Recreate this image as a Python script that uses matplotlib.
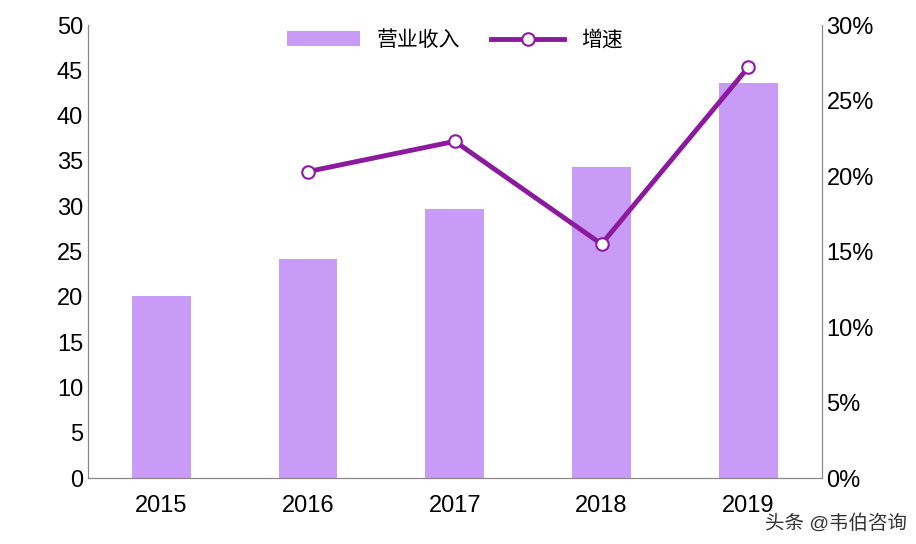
import matplotlib
matplotlib.use('Agg')
import matplotlib.pyplot as plt

plt.rcParams['font.family'] = ['Liberation Sans', 'Noto Sans CJK SC', 'DejaVu Sans']

years = ['2015', '2016', '2017', '2018', '2019']
revenue = [20.1, 24.2, 29.7, 34.3, 43.6]
growth_years = ['2016', '2017', '2018', '2019']
growth = [20.3, 22.3, 15.5, 27.2]

fig = plt.figure(figsize=(9.16, 5.44), dpi=100)
ax = fig.add_axes([0.096, 0.121, 0.801, 0.833])
x = list(range(len(years)))
bars = ax.bar(x, revenue, width=0.4, color='#C89BF7', label='营业收入')
ax.set_ylim(0, 50)
ax.set_yticks(range(0, 51, 5))
ax.set_xlim(-0.5, len(years) - 0.5)
ax.set_xticks(x)
ax.set_xticklabels(years)
ax.tick_params(labelsize=17, length=0)
ax.tick_params(axis='x', pad=12)
ax.spines['top'].set_visible(False)

ax2 = ax.twinx()
gx = [years.index(y) for y in growth_years]
line, = ax2.plot(gx, growth, color='#8B1A9E', lw=3.5, marker='o', ms=9,
                 mfc='white', mec='#8B1A9E', mew=1.5, label='增速')
ax2.set_ylim(0, 30)
ax2.set_yticks(range(0, 31, 5))
ax2.set_yticklabels([f'{v}%' for v in range(0, 31, 5)])
ax2.tick_params(labelsize=17, length=0)
ax2.spines['top'].set_visible(False)
for a in (ax, ax2):
    for s in ('left', 'right', 'bottom'):
        a.spines[s].set_color('#888888')

ax.legend([bars, line], ['营业收入', '增速'], loc='upper center', ncol=2,
          frameon=False, fontsize=15, bbox_to_anchor=(0.5, 1.03),
          handlelength=3.5, columnspacing=1.5)

fig.text(0.99, 0.02, '头条 @韦伯咨询', ha='right', va='bottom', fontsize=14, color='#333333')
fig.savefig('out.png')
